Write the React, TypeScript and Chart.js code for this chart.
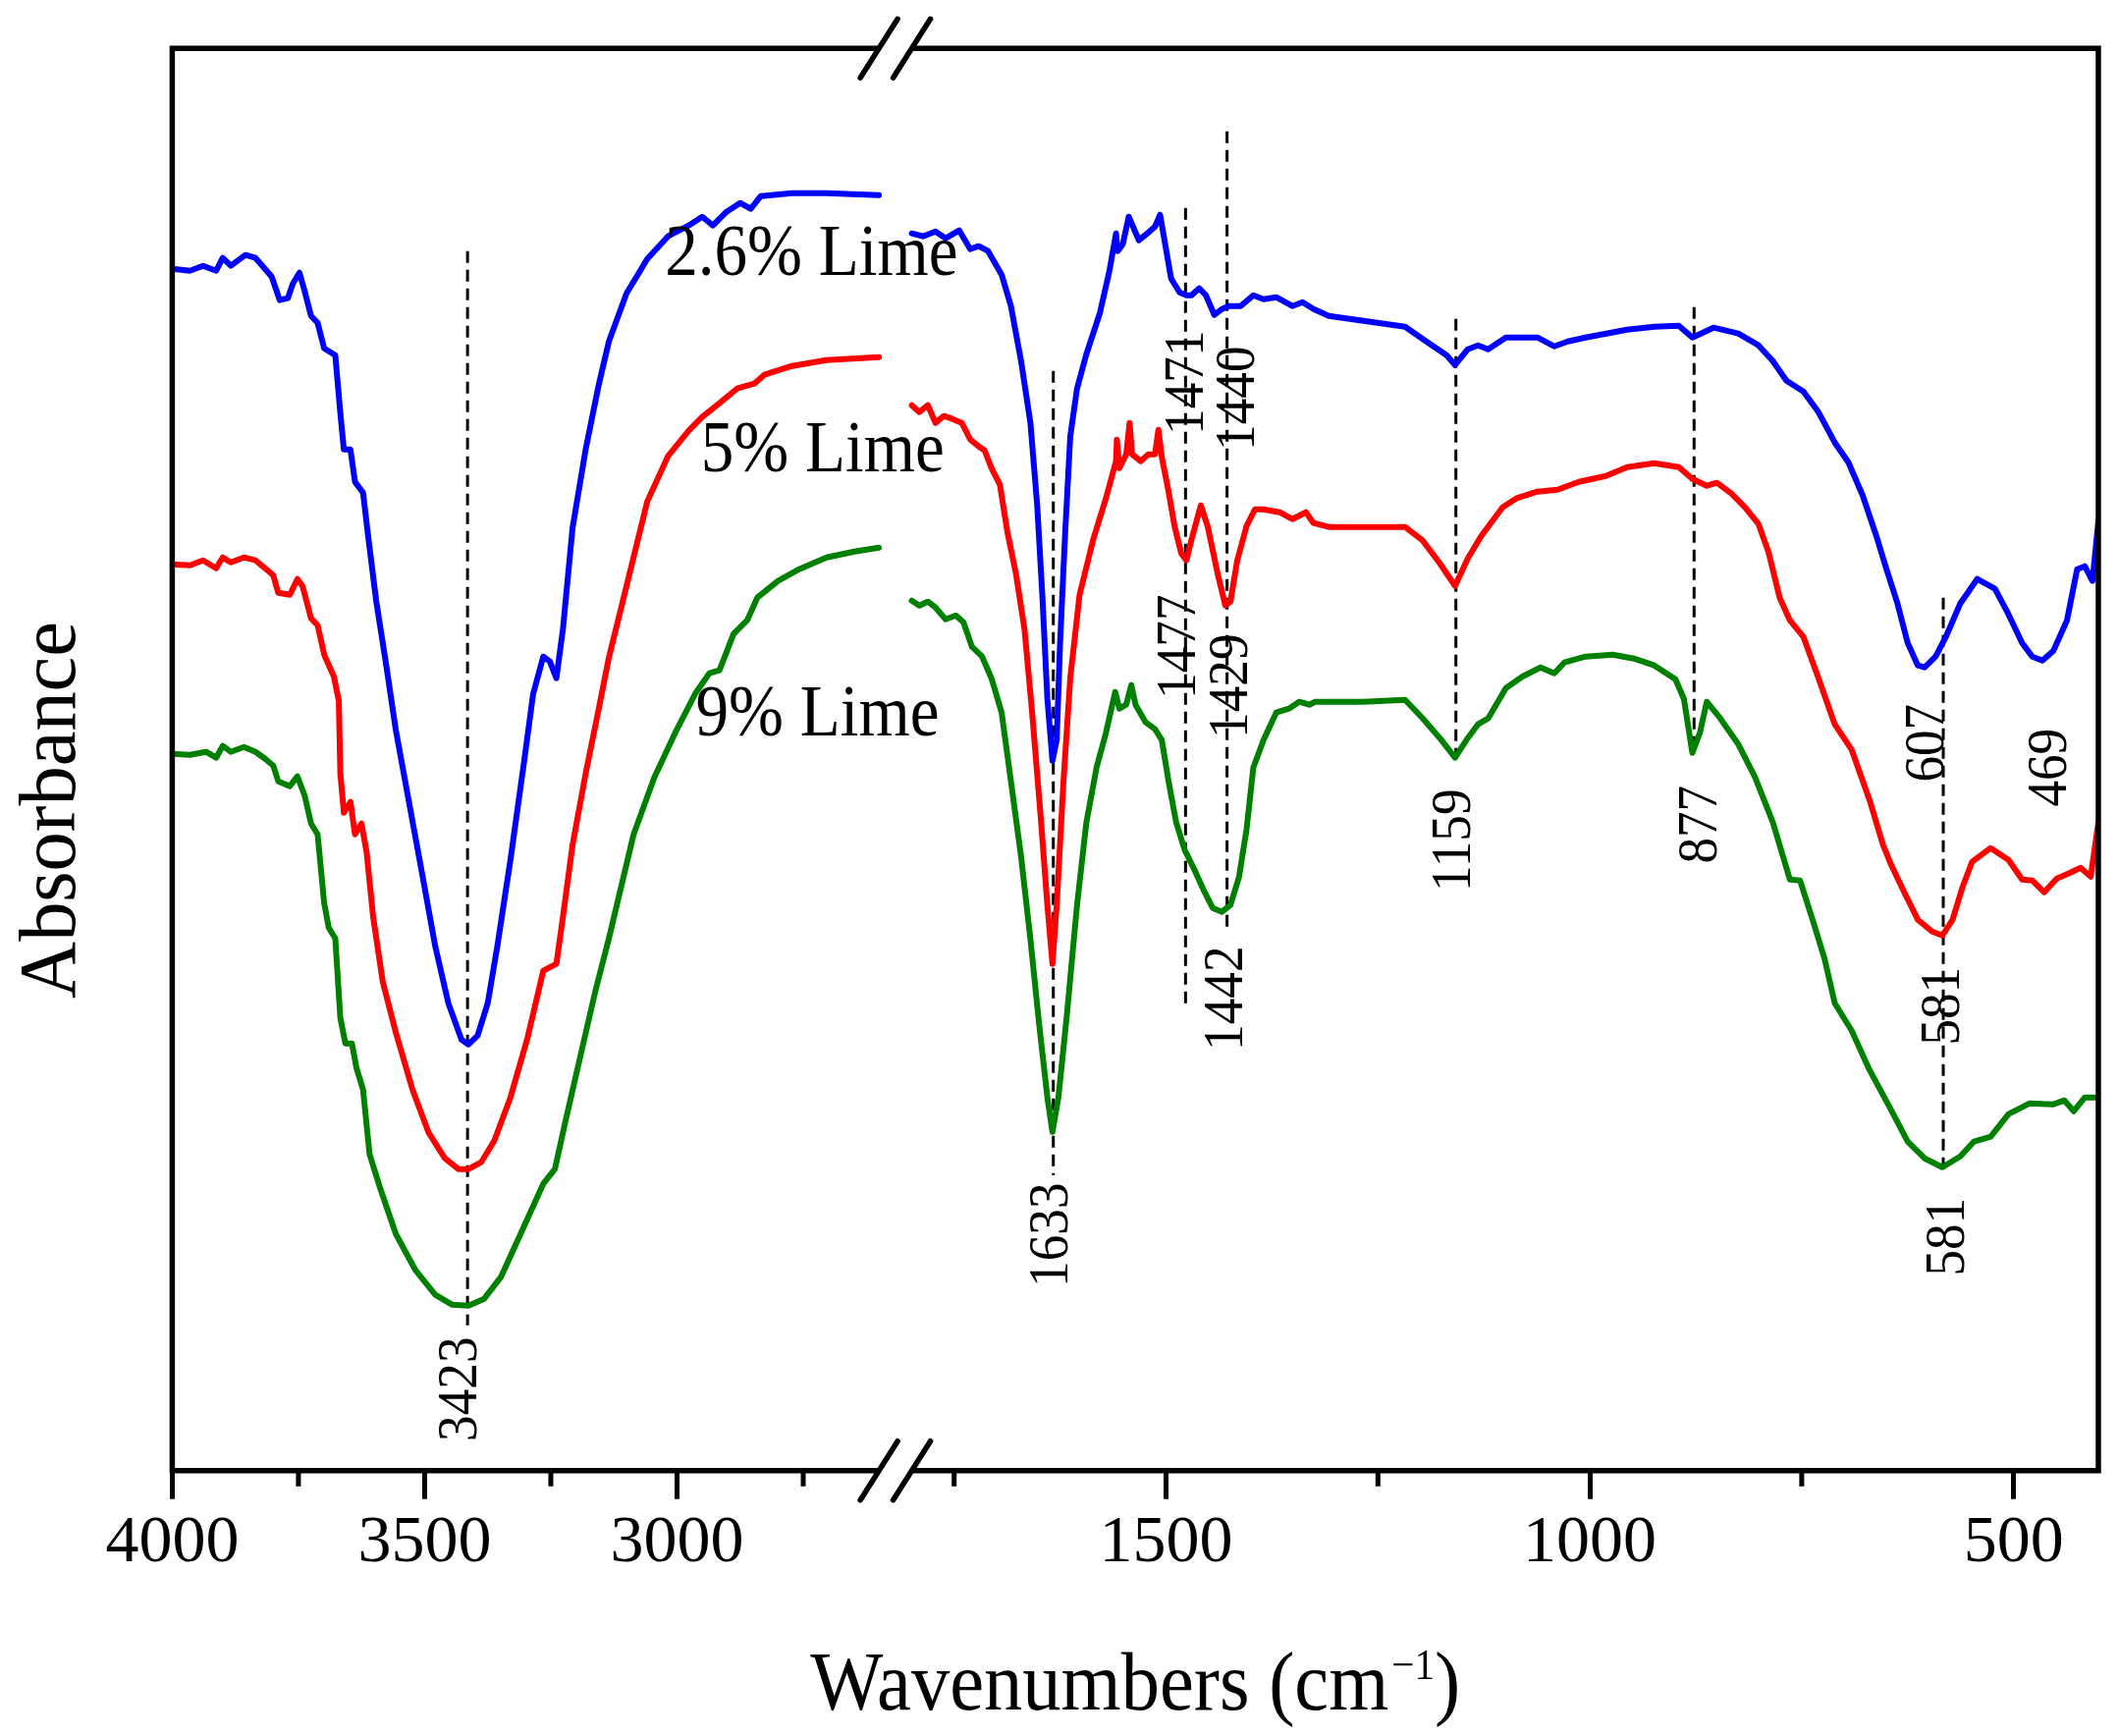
import React, { useEffect, useRef } from "react";
import { Chart, registerables } from "chart.js";

Chart.register(...registerables);

// ---------------- data (wavenumber cm-1, absorbance a.u.) ----------------
const blueLeft: [number, number][] = [
  [4000, 12.24], [3965, 12.22], [3939, 12.27], [3913, 12.22], [3900, 12.35], [3884, 12.27], [3855, 12.38], [3835, 12.35],
  [3803, 12.16], [3787, 11.92], [3771, 11.94], [3761, 12.09], [3748, 12.2], [3738, 12.02], [3725, 11.76], [3712, 11.69],
  [3699, 11.43], [3677, 11.36], [3667, 10.77], [3660, 10.4], [3647, 10.4], [3638, 10.07], [3622, 9.96], [3612, 9.52],
  [3596, 8.86], [3576, 8.2], [3557, 7.54], [3531, 6.81], [3505, 6.08], [3479, 5.34], [3453, 4.76], [3427, 4.39],
  [3413, 4.34], [3395, 4.43], [3375, 4.76], [3356, 5.34], [3330, 6.22], [3304, 7.18], [3285, 7.91], [3265, 8.29],
  [3252, 8.24], [3239, 8.07], [3226, 8.57], [3207, 9.6], [3181, 10.4], [3155, 11.06], [3135, 11.5], [3100, 11.99],
  [3059, 12.34], [3018, 12.57], [2977, 12.68], [2950, 12.77], [2929, 12.68], [2902, 12.82], [2875, 12.91], [2854, 12.85],
  [2834, 12.98], [2772, 13.01], [2704, 13.01], [2600, 12.99],
];
const blueRight: [number, number][] = [
  [1800, 12.6], [1787, 12.57], [1772, 12.62], [1760, 12.55], [1744, 12.63], [1731, 12.44], [1721, 12.47], [1710, 12.42],
  [1694, 12.18], [1683, 11.86], [1671, 11.3], [1660, 10.67], [1652, 9.83], [1646, 8.92], [1640, 7.86], [1634, 7.23],
  [1629, 7.44], [1625, 8.43], [1619, 9.55], [1613, 10.53], [1605, 11.02], [1594, 11.37], [1578, 11.79], [1567, 12.21],
  [1559, 12.6], [1557, 12.42], [1551, 12.49], [1544, 12.77], [1540, 12.69], [1532, 12.53], [1522, 12.6], [1513, 12.67],
  [1507, 12.79], [1501, 12.49], [1494, 12.14], [1484, 12.0], [1476, 11.97], [1470, 11.97], [1461, 12.04], [1453, 11.97],
  [1443, 11.77], [1434, 11.83], [1426, 11.86], [1412, 11.86], [1397, 11.97], [1385, 11.93], [1370, 11.95], [1351, 11.86],
  [1339, 11.9], [1326, 11.83], [1308, 11.76], [1267, 11.71], [1218, 11.65], [1193, 11.5], [1169, 11.36], [1159, 11.26],
  [1144, 11.42], [1132, 11.46], [1120, 11.42], [1099, 11.54], [1062, 11.54], [1042, 11.45], [1026, 11.5], [1005, 11.54],
  [956, 11.62], [924, 11.65], [895, 11.66], [879, 11.54], [854, 11.64], [825, 11.58], [801, 11.46], [784, 11.3],
  [768, 11.1], [748, 10.99], [731, 10.79], [711, 10.47], [695, 10.27], [678, 9.93], [662, 9.52], [650, 9.18],
  [637, 8.83], [625, 8.43], [613, 8.2], [605, 8.18], [592, 8.29], [580, 8.49], [563, 8.83], [543, 9.08],
  [522, 8.98], [506, 8.72], [490, 8.43], [478, 8.29], [466, 8.25], [453, 8.35], [437, 8.66], [425, 9.18],
  [416, 9.21], [407, 9.06], [400, 9.67],
];
const redLeft: [number, number][] = [
  [4000, 9.23], [3965, 9.22], [3939, 9.27], [3913, 9.19], [3900, 9.3], [3884, 9.25], [3858, 9.3], [3835, 9.27],
  [3816, 9.19], [3800, 9.12], [3790, 8.94], [3767, 8.92], [3752, 9.08], [3742, 9.01], [3725, 8.68], [3712, 8.61],
  [3699, 8.31], [3680, 8.09], [3670, 7.84], [3667, 7.1], [3660, 6.7], [3647, 6.81], [3638, 6.48], [3625, 6.59],
  [3615, 6.3], [3602, 5.64], [3583, 4.98], [3557, 4.46], [3524, 3.88], [3492, 3.44], [3460, 3.18], [3433, 3.07],
  [3413, 3.07], [3388, 3.14], [3362, 3.36], [3330, 3.8], [3297, 4.39], [3265, 5.09], [3239, 5.16], [3226, 5.64],
  [3207, 6.37], [3181, 7.1], [3155, 7.76], [3135, 8.28], [3100, 9.01], [3059, 9.87], [3018, 10.33], [2977, 10.59],
  [2950, 10.73], [2916, 10.87], [2881, 11.02], [2847, 11.07], [2827, 11.16], [2772, 11.25], [2704, 11.31], [2600, 11.34],
];
const redRight: [number, number][] = [
  [1800, 10.85], [1791, 10.78], [1781, 10.85], [1772, 10.67], [1762, 10.74], [1752, 10.71], [1741, 10.67], [1731, 10.5],
  [1721, 10.43], [1714, 10.39], [1706, 10.21], [1696, 10.04], [1687, 9.55], [1677, 9.13], [1667, 8.57], [1658, 7.72],
  [1648, 6.67], [1640, 5.76], [1634, 5.16], [1629, 5.76], [1621, 7.02], [1613, 8.07], [1602, 8.92], [1586, 9.48],
  [1571, 9.9], [1559, 10.28], [1558, 10.5], [1555, 10.21], [1547, 10.35], [1543, 10.67], [1540, 10.35], [1530, 10.28],
  [1521, 10.35], [1513, 10.35], [1509, 10.6], [1505, 10.32], [1497, 9.97], [1490, 9.62], [1482, 9.34], [1476, 9.27],
  [1470, 9.48], [1459, 9.83], [1451, 9.62], [1439, 9.13], [1430, 8.81], [1424, 8.85], [1416, 9.27], [1405, 9.62],
  [1395, 9.79], [1385, 9.79], [1366, 9.76], [1351, 9.69], [1335, 9.76], [1326, 9.65], [1308, 9.61], [1267, 9.61],
  [1218, 9.61], [1197, 9.47], [1177, 9.24], [1159, 9.01], [1144, 9.29], [1128, 9.52], [1103, 9.81], [1087, 9.9],
  [1062, 9.97], [1038, 9.99], [1013, 10.07], [981, 10.13], [956, 10.22], [924, 10.26], [895, 10.22], [879, 10.1],
  [862, 10.03], [850, 10.06], [833, 9.95], [817, 9.81], [801, 9.64], [789, 9.35], [776, 8.89], [764, 8.66],
  [748, 8.49], [731, 8.09], [711, 7.6], [691, 7.34], [670, 6.83], [654, 6.37], [645, 6.18], [629, 5.89],
  [613, 5.61], [596, 5.49], [584, 5.45], [572, 5.61], [560, 5.95], [549, 6.2], [527, 6.34], [506, 6.22],
  [490, 6.02], [478, 6.01], [464, 5.89], [449, 6.03], [433, 6.09], [421, 6.14], [409, 6.05], [400, 6.6],
];
const greenLeft: [number, number][] = [
  [4000, 7.3], [3965, 7.29], [3933, 7.32], [3913, 7.26], [3900, 7.38], [3884, 7.32], [3858, 7.37], [3835, 7.32],
  [3816, 7.25], [3800, 7.18], [3790, 7.02], [3767, 6.97], [3752, 7.07], [3738, 6.88], [3725, 6.59], [3712, 6.48],
  [3699, 5.78], [3690, 5.53], [3677, 5.42], [3667, 4.61], [3657, 4.35], [3644, 4.35], [3635, 4.1], [3622, 3.88],
  [3609, 3.22], [3589, 2.89], [3557, 2.41], [3518, 2.04], [3479, 1.79], [3446, 1.69], [3413, 1.68], [3382, 1.75],
  [3349, 1.97], [3310, 2.41], [3265, 2.92], [3242, 3.07], [3220, 3.58], [3187, 4.32], [3161, 4.9], [3135, 5.42],
  [3086, 6.48], [3045, 7.06], [3004, 7.51], [2963, 7.92], [2936, 8.12], [2916, 8.15], [2888, 8.52], [2861, 8.66],
  [2841, 8.89], [2800, 9.06], [2758, 9.18], [2704, 9.3], [2649, 9.36], [2600, 9.4],
];
const greenRight: [number, number][] = [
  [1800, 8.86], [1791, 8.81], [1781, 8.85], [1772, 8.79], [1760, 8.67], [1748, 8.71], [1739, 8.64], [1729, 8.39],
  [1717, 8.29], [1706, 8.07], [1694, 7.72], [1683, 7.02], [1671, 6.25], [1660, 5.41], [1650, 4.57], [1640, 3.8],
  [1634, 3.45], [1627, 3.8], [1617, 4.64], [1605, 5.76], [1594, 6.6], [1582, 7.16], [1571, 7.51], [1560, 7.93],
  [1555, 7.76], [1547, 7.8], [1541, 8.0], [1536, 7.8], [1524, 7.62], [1513, 7.55], [1505, 7.44], [1497, 7.02],
  [1488, 6.6], [1478, 6.32], [1466, 6.11], [1455, 5.9], [1445, 5.73], [1434, 5.69], [1424, 5.76], [1414, 6.04],
  [1405, 6.53], [1397, 7.16], [1385, 7.44], [1370, 7.72], [1355, 7.76], [1343, 7.83], [1331, 7.8], [1324, 7.83],
  [1308, 7.83], [1267, 7.83], [1218, 7.85], [1197, 7.66], [1177, 7.46], [1159, 7.26], [1144, 7.46], [1132, 7.6],
  [1120, 7.66], [1099, 7.97], [1079, 8.09], [1058, 8.18], [1042, 8.12], [1030, 8.23], [1005, 8.29], [973, 8.31],
  [948, 8.27], [924, 8.2], [899, 8.06], [889, 7.86], [879, 7.31], [870, 7.52], [862, 7.83], [846, 7.66],
  [825, 7.4], [805, 7.06], [784, 6.6], [764, 6.02], [752, 6.01], [735, 5.55], [723, 5.21], [711, 4.76],
  [691, 4.48], [670, 4.08], [645, 3.68], [625, 3.35], [605, 3.18], [584, 3.09], [563, 3.2], [547, 3.35],
  [527, 3.4], [506, 3.63], [481, 3.74], [453, 3.73], [440, 3.77], [429, 3.66], [416, 3.8], [400, 3.8],
];

const majorTicks = [4000, 3500, 3000, 1500, 1000, 500];
const minorTicks = [3750, 3250, 2750, 1750, 1250, 750];

const seriesNames = ["2.6% Lime", "5% Lime", "9% Lime"];
const seriesNameWn = [3024, 2953, 2963];
const seriesNameAbs = [12.18, 10.18, 7.49];

const markerWn = [3415, 1633, 1477, 1428, 1158, 877, 583];
const markerTop = [12.42, 11.2, 12.86, 13.64, 11.73, 11.85, 8.89];
const markerBottom = [1.48, 3.01, 4.72, 5.47, 7.17, 7.29, 3.09];

const peakText = ["3423", "1633", "1471", "1440", "1477", "1429", "1442", "1159", "877", "607", "469", "581", "581"];
const peakWn = [3427, 1633, 1474, 1413, 1483, 1421, 1427, 1159, 868, 600, 455, 582, 576];
const peakAbs = [0.83, 2.4, 11.08, 10.92, 8.39, 7.99, 4.81, 6.42, 6.58, 7.41, 7.16, 4.73, 2.38];

// ---------------- broken x axis mapping ----------------
const LEFT_FROM = 4000;
const LEFT_TO = 2600;
const RIGHT_FROM = 1800;
const RIGHT_TO = 400;
const BREAK_GAP = 65;
const RIGHT_STRETCH = 1.679;
const toU = (w: number) =>
  w > (LEFT_TO + RIGHT_FROM) / 2
    ? LEFT_FROM - w
    : LEFT_FROM - LEFT_TO + BREAK_GAP + (RIGHT_FROM - w) * RIGHT_STRETCH;

const FONT = "'Liberation Serif', 'Times New Roman', serif";
const COLORS = ["#0000ff", "#ff0000", "#008000"];

function buildSeries(left: [number, number][], right: [number, number][]) {
  return [
    ...left.map(([w, a]) => ({ x: toU(w), y: a })),
    { x: (toU(LEFT_TO) + toU(RIGHT_FROM)) / 2, y: null as any },
    ...right.map(([w, a]) => ({ x: toU(w), y: a })),
  ];
}

function drawRotated(ctx: CanvasRenderingContext2D, text: string, x: number, y: number, size: number, squeeze: number) {
  ctx.save();
  ctx.translate(x, y);
  ctx.rotate(-Math.PI / 2);
  ctx.scale(squeeze, 1);
  ctx.font = `${size}px ${FONT}`;
  ctx.textAlign = "center";
  ctx.textBaseline = "middle";
  ctx.fillText(text, 0, 0);
  ctx.restore();
}

const overlayPlugin = {
  id: "ftirOverlay",
  beforeDatasetsDraw(chart: any) {
    const { ctx } = chart;
    const xs = chart.scales.x;
    const ys = chart.scales.y;
    ctx.save();
    ctx.strokeStyle = "#000";
    ctx.lineWidth = 3;
    ctx.setLineDash([12, 7]);
    markerWn.forEach((w, i) => {
      const px = xs.getPixelForValue(toU(w));
      ctx.beginPath();
      ctx.moveTo(px, ys.getPixelForValue(markerTop[i]));
      ctx.lineTo(px, ys.getPixelForValue(markerBottom[i]));
      ctx.stroke();
    });
    ctx.restore();
  },
  afterDraw(chart: any) {
    const { ctx, chartArea } = chart;
    const { left, right, top, bottom } = chartArea;
    const xs = chart.scales.x;
    const ys = chart.scales.y;
    ctx.save();
    ctx.fillStyle = "#000";
    ctx.strokeStyle = "#000";

    // peak labels
    peakText.forEach((t, i) => {
      drawRotated(ctx, t, xs.getPixelForValue(toU(peakWn[i])), ys.getPixelForValue(peakAbs[i]), 56, 0.95);
    });

    // series labels
    seriesNames.forEach((t, i) => {
      ctx.save();
      ctx.translate(xs.getPixelForValue(toU(seriesNameWn[i])), ys.getPixelForValue(seriesNameAbs[i]));
      ctx.scale(0.92, 1);
      ctx.font = `73px ${FONT}`;
      ctx.textAlign = "left";
      ctx.textBaseline = "alphabetic";
      ctx.fillText(t, 0, 0);
      ctx.restore();
    });

    // frame with axis break
    const b1 = xs.getPixelForValue(toU(LEFT_TO));
    const b2 = xs.getPixelForValue(toU(RIGHT_FROM));
    const lw = 5.5;
    ctx.lineWidth = lw;
    ctx.lineCap = "butt";
    ctx.beginPath();
    ctx.moveTo(left, top - lw / 2);
    ctx.lineTo(left, bottom + lw / 2);
    ctx.moveTo(right, top - lw / 2);
    ctx.lineTo(right, bottom + lw / 2);
    for (const yy of [top, bottom]) {
      ctx.moveTo(left, yy);
      ctx.lineTo(b1, yy);
      ctx.moveTo(b2, yy);
      ctx.lineTo(right, yy);
    }
    ctx.stroke();

    ctx.lineCap = "round";
    ctx.beginPath();
    for (const yy of [top, bottom]) {
      for (const bx of [b1, b2]) {
        ctx.moveTo(bx - 19, yy + 30);
        ctx.lineTo(bx + 19, yy - 30);
      }
    }
    ctx.stroke();

    // minor ticks
    ctx.lineCap = "butt";
    ctx.lineWidth = 5;
    ctx.beginPath();
    minorTicks.forEach((w) => {
      const px = xs.getPixelForValue(toU(w));
      ctx.moveTo(px, bottom);
      ctx.lineTo(px, bottom + 16);
    });
    ctx.stroke();

    // y title
    ctx.save();
    ctx.translate(left - 99.7, (top + bottom) / 2 + 51.5);
    ctx.rotate(-Math.PI / 2);
    ctx.scale(0.98, 1);
    ctx.font = `82px ${FONT}`;
    ctx.textAlign = "center";
    ctx.textBaseline = "alphabetic";
    ctx.fillText("Absorbance", 0, 0);
    ctx.restore();

    // x title with superscript
    const sq = 0.935;
    const main = "Wavenumbers (cm";
    const sup = "\u22121";
    const close = ")";
    ctx.font = `84px ${FONT}`;
    const wMain = ctx.measureText(main).width * sq;
    const wClose = ctx.measureText(close).width * sq;
    ctx.font = `44px ${FONT}`;
    const wSup = ctx.measureText(sup).width * sq;
    const total = wMain + 3 + wSup + wClose;
    let cx = (left + right) / 2 - total / 2;
    const base = bottom + 243;
    const piece = (text: string, size: number, yb: number, w: number) => {
      ctx.save();
      ctx.translate(cx, yb);
      ctx.scale(sq, 1);
      ctx.font = `${size}px ${FONT}`;
      ctx.textAlign = "left";
      ctx.textBaseline = "alphabetic";
      ctx.fillText(text, 0, 0);
      ctx.restore();
      cx += w;
    };
    piece(main, 84, base, wMain + 3);
    piece(sup, 44, base - 31, wSup);
    piece(close, 84, base, wClose);

    ctx.restore();
  },
};

export default function App() {
  const canvasRef = useRef<HTMLCanvasElement | null>(null);

  useEffect(() => {
    const canvas = canvasRef.current;
    if (!canvas) return;
    const chart = new Chart(canvas, {
      type: "line",
      data: {
        datasets: [
          { label: seriesNames[0], data: buildSeries(blueLeft, blueRight), borderColor: COLORS[0] },
          { label: seriesNames[1], data: buildSeries(redLeft, redRight), borderColor: COLORS[1] },
          { label: seriesNames[2], data: buildSeries(greenLeft, greenRight), borderColor: COLORS[2] },
        ].map((d) => ({
          ...d,
          borderWidth: 6,
          pointRadius: 0,
          tension: 0,
          fill: false,
          spanGaps: false,
          borderJoinStyle: "round" as const,
          borderCapStyle: "round" as const,
        })),
      },
      options: {
        responsive: false,
        animation: false,
        events: [],
        layout: { padding: { left: 175.4, right: 20, top: 49.3, bottom: 0 } },
        plugins: { legend: { display: false }, tooltip: { enabled: false }, title: { display: false } },
        scales: {
          x: {
            type: "linear",
            min: 0,
            max: toU(RIGHT_TO),
            afterBuildTicks: (scale: any) => {
              scale.ticks = majorTicks.map((w) => ({ value: toU(w) }));
            },
            afterFit: (scale: any) => {
              scale.height = 270.3;
            },
            border: { display: false },
            grid: {
              display: true,
              drawOnChartArea: false,
              drawTicks: true,
              tickLength: 29,
              tickWidth: 5,
              tickColor: "#000",
            },
            ticks: {
              autoSkip: false,
              maxRotation: 0,
              minRotation: 0,
              padding: 11,
              color: "#000",
              font: { family: FONT, size: 68, lineHeight: 1 },
              callback: (value: any) => {
                const w = majorTicks.find((t) => Math.abs(toU(t) - Number(value)) < 1e-6);
                return w === undefined ? "" : String(w);
              },
            },
          },
          y: {
            type: "linear",
            display: false,
            min: 0,
            max: 14.484,
          },
        },
      },
      plugins: [overlayPlugin],
    });
    return () => chart.destroy();
  }, []);

  return (
    <div style={{ position: "fixed", left: 0, top: 0, width: 2157, height: 1768, background: "#fff" }}>
      <canvas ref={canvasRef} width={2157} height={1768} style={{ display: "block" }} />
    </div>
  );
}
